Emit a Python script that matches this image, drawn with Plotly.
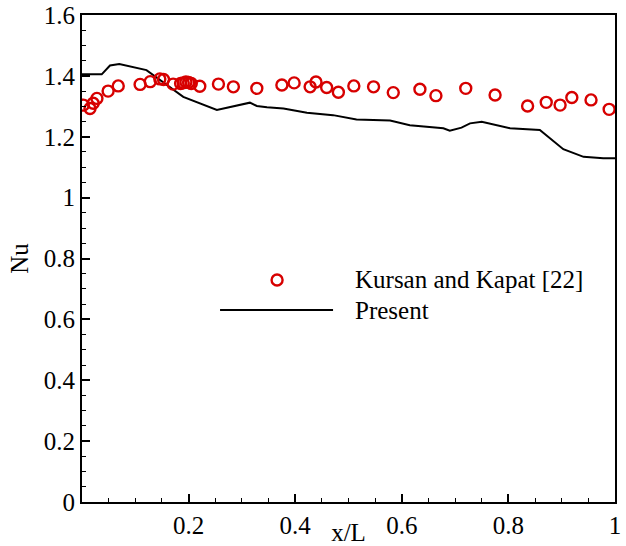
import plotly.graph_objects as go

# Present (numerical) curve
present_x = [0.0, 0.037, 0.0525, 0.070, 0.121, 0.159, 0.190, 0.253, 0.315, 0.328,
             0.347, 0.378, 0.422, 0.471, 0.515, 0.578, 0.615, 0.678, 0.690, 0.712,
             0.728, 0.750, 0.775, 0.803, 0.859, 0.903, 0.941, 0.978, 1.0]
present_y = [1.405, 1.405, 1.434, 1.439, 1.419, 1.372, 1.331, 1.288, 1.312, 1.301,
             1.297, 1.293, 1.279, 1.271, 1.257, 1.253, 1.238, 1.228, 1.220, 1.230,
             1.244, 1.249, 1.238, 1.228, 1.222, 1.159, 1.134, 1.129, 1.129]

# Kursan and Kapat [22] experimental points
exp_x = [0.0025, 0.015, 0.021, 0.028, 0.049, 0.068, 0.109, 0.128, 0.146, 0.153,
         0.171, 0.185, 0.190, 0.195, 0.200, 0.205, 0.221, 0.256, 0.284, 0.328,
         0.375, 0.398, 0.428, 0.439, 0.459, 0.481, 0.510, 0.547, 0.584, 0.634,
         0.664, 0.720, 0.775, 0.836, 0.871, 0.897, 0.919, 0.955, 0.989]
exp_y = [1.304, 1.293, 1.310, 1.326, 1.350, 1.367, 1.372, 1.381, 1.390, 1.388,
         1.373, 1.375, 1.377, 1.380, 1.378, 1.375, 1.366, 1.373, 1.364, 1.359,
         1.370, 1.377, 1.364, 1.380, 1.362, 1.346, 1.367, 1.364, 1.345, 1.356,
         1.335, 1.359, 1.337, 1.301, 1.313, 1.304, 1.329, 1.321, 1.290]

x_ticks = [0.2, 0.4, 0.6, 0.8, 1.0]
x_ticktext = ["0.2", "0.4", "0.6", "0.8", "1"]
y_ticks = [0, 0.2, 0.4, 0.6, 0.8, 1.0, 1.2, 1.4, 1.6]
y_ticktext = ["0", "0.2", "0.4", "0.6", "0.8", "1", "1.2", "1.4", "1.6"]

RED = "rgb(215,0,0)"
FONT = "Liberation Serif"
FS = 25

fig = go.Figure()
fig.add_trace(go.Scatter(x=present_x, y=present_y, mode="lines",
                         line=dict(color="black", width=2), showlegend=False,
                         name="Present"))
fig.add_trace(go.Scatter(x=exp_x, y=exp_y, mode="markers",
                         marker=dict(symbol="circle-open", size=11, color=RED,
                                     line=dict(width=2.4, color=RED)),
                         showlegend=False, name="Kursan and Kapat [22]"))

axis_common = dict(showline=True, linecolor="black", linewidth=2, mirror=True,
                   ticks="inside", ticklen=8, tickwidth=1.5, tickcolor="black",
                   showgrid=False, zeroline=False, automargin=False,
                   tickfont=dict(family=FONT, size=FS, color="black"),
                   minor=dict(ticks="inside", ticklen=4, tickwidth=1,
                              tickcolor="black", dtick=0.05, showgrid=False))

fig.update_xaxes(range=[0, 1], tickmode="array", tickvals=x_ticks,
                 ticktext=x_ticktext,
                 title=dict(text="x/L", font=dict(family=FONT, size=FS, color="black"),
                            standoff=0),
                 **axis_common)
fig.update_yaxes(range=[0, 1.6], tickmode="array", tickvals=y_ticks,
                 ticktext=y_ticktext,
                 title=dict(text="Nu", font=dict(family=FONT, size=FS, color="black"),
                            standoff=8),
                 **axis_common)

# Custom legend (paper coordinates)
fig.add_shape(type="circle", xref="paper", yref="paper",
              xsizemode="pixel", ysizemode="pixel",
              xanchor=0.366, yanchor=0.456, x0=-5.5, x1=5.5, y0=-5.5, y1=5.5,
              line=dict(color=RED, width=2.4))
fig.add_shape(type="line", xref="paper", yref="paper",
              x0=0.259, x1=0.471, y0=0.394, y1=0.394,
              line=dict(color="black", width=2))
fig.add_annotation(xref="paper", yref="paper", x=0.508, y=0.456,
                   text="Kursan and Kapat [22]", showarrow=False,
                   xanchor="left", yanchor="middle",
                   font=dict(family=FONT, size=FS, color="black"))
fig.add_annotation(xref="paper", yref="paper", x=0.508, y=0.394,
                   text="Present", showarrow=False,
                   xanchor="left", yanchor="middle",
                   font=dict(family=FONT, size=FS, color="black"))

fig.update_layout(width=626, height=546,
                  margin=dict(l=82, r=11, t=15, b=44),
                  plot_bgcolor="white", paper_bgcolor="white",
                  showlegend=False)

fig.write_html("out.html")
